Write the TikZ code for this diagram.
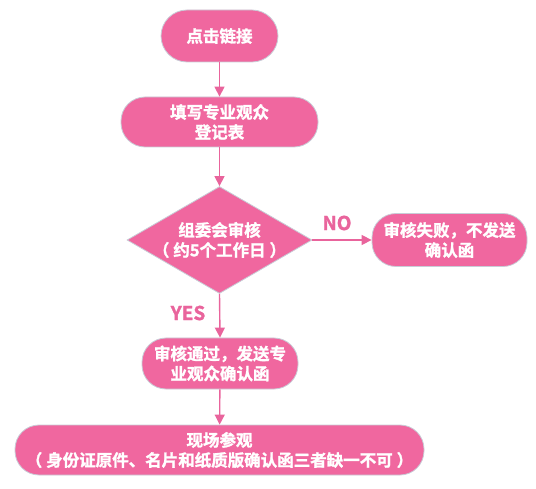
\documentclass[tikz,border=0pt]{standalone}
\usepackage{fontspec}
\newfontfamily\cjk{Noto Sans CJK SC Bold}[FakeBold=1.5]
\usetikzlibrary{arrows.meta,shapes.geometric}
\definecolor{pinkfill}{RGB}{240,103,159}
\definecolor{pinkline}{RGB}{233,100,156}
\definecolor{shadowc}{RGB}{200,205,215}
\newcommand{\psp}{\hspace{4pt}}
\tikzset{
  box/.style={draw=shadowc, line width=0.8pt, fill=pinkfill, rounded corners=24pt,
    inner sep=0pt, align=center, text=white,
    font=\cjk\fontsize{16.5}{20}\selectfont},
  lbl/.style={inner sep=0pt, text=white, align=center,
    font=\cjk\fontsize{16.5}{20}\selectfont},
  yn/.style={inner sep=0pt, text=pinkline, font=\cjk\fontsize{19}{22}\selectfont},
  conn/.style={draw=pinkline, line width=1.4pt, -{Triangle[length=10pt,width=10pt]}}
}
\begin{document}
\begin{tikzpicture}[x=1pt,y=-1pt]
\useasboundingbox (0,0) rectangle (536,489);
\node[box, minimum width=117pt, minimum height=52pt, rounded corners=26pt] (n1) at (219.5,36) {点击链接};
\node[box, minimum width=197pt, minimum height=50pt] (n2) at (219.5,122) {填写专业观众\\登记表};
\node[diamond, draw=shadowc, line width=0.8pt, fill=pinkfill, minimum width=185pt, minimum height=107pt, inner sep=0pt] (d) at (219.5,240) {};
\node[lbl] (dt) at (d.center) {组委会审核\\（\psp 约5个工作日\psp ）};
\node[box, minimum width=155pt, minimum height=53pt] (no) at (449.5,240) {审核失败，不发送\\确认函};
\node[box, minimum width=156pt, minimum height=51pt] (n5) at (220,363.5) {审核通过，发送专\\业观众确认函};
\node[box, minimum width=409pt, minimum height=50pt] (n6) at (219.5,450) {现场参观\\（\psp 身份证原件、名片和纸质版确认函三者缺一不可\psp ）};
\draw[conn] (n1) -- (n2);
\draw[conn] (n2) -- (d);
\draw[conn] (d.east) -- (no.west);
\draw[conn] (d.south) -- (n5.north);
\draw[conn] (n5) -- (n6);
\node[yn] (lno) at (337,223) {NO};
\node[yn] (lyes) at (188,313) {YES};
\end{tikzpicture}
\end{document}
